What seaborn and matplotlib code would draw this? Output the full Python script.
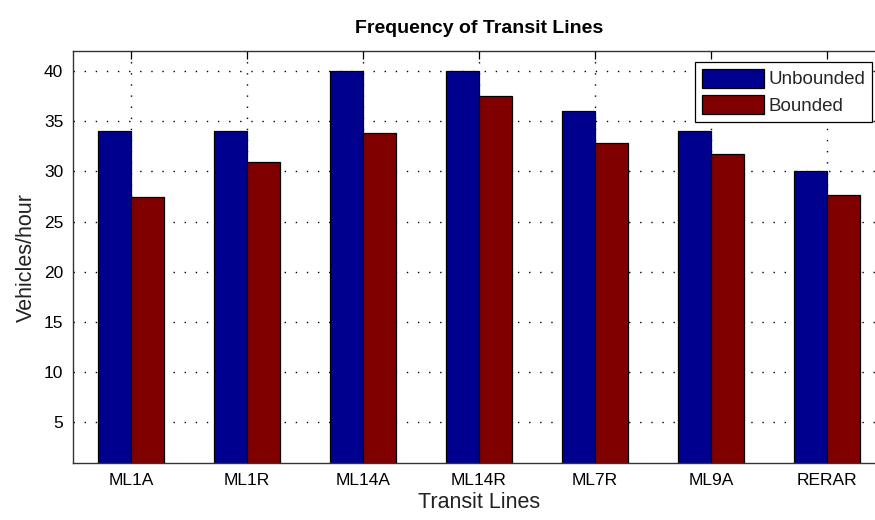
import numpy as np
import pandas as pd
import matplotlib
matplotlib.use('Agg')
import matplotlib.pyplot as plt
import seaborn as sns

# data
lines = ['ML1A', 'ML1R', 'ML14A', 'ML14R', 'ML7R', 'ML9A', 'RERAR']
unbounded = [34, 34, 40, 40, 36, 34, 30]
bounded = [27.5, 30.9, 33.8, 37.5, 32.8, 31.7, 27.7]
yticks = [5, 10, 15, 20, 25, 30, 35, 40]

df = pd.DataFrame({
    'line': lines * 2,
    'freq': unbounded + bounded,
    'kind': ['Unbounded'] * len(lines) + ['Bounded'] * len(lines),
})

sns.set_style('white')
plt.rcParams['font.family'] = ['Liberation Sans', 'DejaVu Sans']

fig = plt.figure(figsize=(8.75, 5.2), dpi=100)
# axes runs slightly past the right edge, like the cropped original
ax = fig.add_axes([73 / 875, 57 / 520, 812 / 875, 412 / 520])

sns.barplot(data=df, x='line', y='freq', hue='kind', order=lines,
            hue_order=['Unbounded', 'Bounded'],
            palette={'Unbounded': '#00008f', 'Bounded': '#800000'},
            width=0.57, edgecolor='black', linewidth=0.9, saturation=1,
            errorbar=None, ax=ax)

ax.set_xlim(-0.5, 6.5)
ax.set_ylim(0.95, 42)
ax.set_yticks(yticks)
ax.set_axisbelow(True)
ax.grid(True, color='black', linestyle=(0, (1, 7)), linewidth=1.0)
ax.tick_params(direction='in', length=6, width=0.9, top=True, right=True,
               labelsize=12.5, colors='black', pad=7)
for sp in ax.spines.values():
    sp.set_color('#333333')
    sp.set_linewidth(1.0)

ax.set_title('Frequency of Transit Lines', fontsize=14, fontweight='bold',
             color='black', pad=13)
ax.set_xlabel('Transit Lines', fontsize=15.5, color='#222222', labelpad=3)
ax.set_ylabel('Vehicles/hour', fontsize=15.5, color='#222222', labelpad=5)

leg = ax.legend(loc='upper right', bbox_to_anchor=(872 / 875, 1 - 62 / 520),
                bbox_transform=fig.transFigure, fontsize=13.5,
                handlelength=3.3, handleheight=1.2, handletextpad=0.25,
                borderpad=0.35, labelspacing=0.35, fancybox=False,
                framealpha=1, edgecolor='black', borderaxespad=0)
leg.get_frame().set_linewidth(0.9)

fig.savefig('out.png', dpi=100)
